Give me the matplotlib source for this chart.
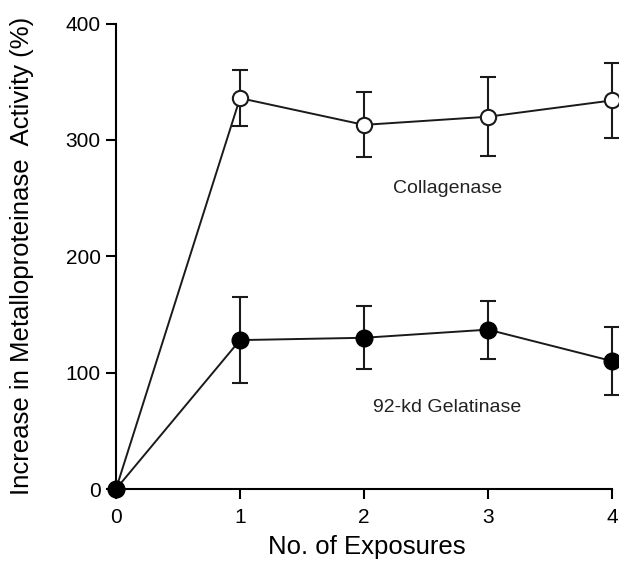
import matplotlib

matplotlib.use("Agg")
import matplotlib.pyplot as plt

plt.rcParams["font.family"] = ["Liberation Sans", "DejaVu Sans"]

exposures = [0, 1, 2, 3, 4]
collagenase = [0, 336, 313, 320, 334]
collagenase_err = [0, 24, 28, 34, 32]
gelatinase = [0, 128, 130, 137, 110]
gelatinase_err = [0, 37, 27, 25, 29]
y_ticks = [0, 100, 200, 300, 400]
x_ticks = [0, 1, 2, 3, 4]

fig = plt.figure(figsize=(6.19, 5.63), dpi=100)
ax = fig.add_axes([0.1874, 0.1314, 0.8013, 0.8266])

common = dict(color="#1a1a1a", linewidth=1.4, elinewidth=1.5, capsize=6,
              capthick=1.5, marker="o", clip_on=False)
ax.errorbar(exposures, collagenase, yerr=collagenase_err, markersize=11,
            markerfacecolor="white", markeredgecolor="#1a1a1a",
            markeredgewidth=1.5, zorder=3, **common)
ax.errorbar(exposures, gelatinase, yerr=gelatinase_err, markersize=12,
            markerfacecolor="black", markeredgecolor="black", zorder=4, **common)

ax.text(2.67, 258, "Collagenase", ha="center", va="center", fontsize=14, color="#222222")
ax.text(2.67, 70, "92-kd Gelatinase", ha="center", va="center", fontsize=14, color="#222222")

ax.set_xlim(0, 4)
ax.set_ylim(0, 400)
ax.set_xticks(x_ticks)
ax.set_yticks(y_ticks)
ax.spines["top"].set_visible(False)
ax.spines["right"].set_visible(False)
ax.spines["left"].set_linewidth(1.5)
ax.spines["bottom"].set_linewidth(1.5)
ax.tick_params(direction="out", length=7, width=1.5, labelsize=15, pad=4)
ax.tick_params(axis="x", pad=7)

ax.set_xlabel("No. of Exposures", fontsize=18.5)
ax.set_ylabel("Increase in Metalloproteinase  Activity (%)", fontsize=18.5)
ax.xaxis.set_label_coords(0.505, -0.098)
ax.yaxis.set_label_coords(-0.165, 0.5)

fig.savefig("out.png", dpi=100)
